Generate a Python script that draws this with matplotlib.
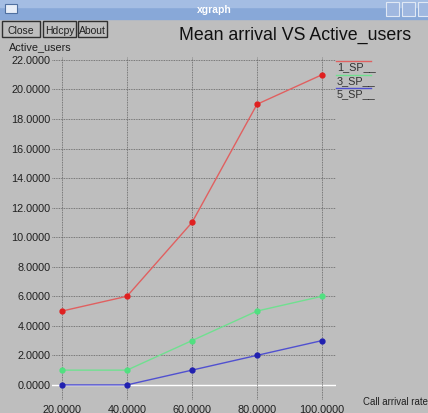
import matplotlib
matplotlib.use("Agg")
import matplotlib.pyplot as plt
from matplotlib.patches import Rectangle

# ---- data ----
x_vals = [20, 40, 60, 80, 100]
sp1 = [5, 6, 11, 19, 21]
sp3 = [1, 1, 3, 5, 6]
sp5 = [0, 0, 1, 2, 3]
series_names = ["1_SP__", "3_SP__", "5_SP__"]
x_ticks = [20, 40, 60, 80, 100]
y_ticks = [0, 2, 4, 6, 8, 10, 12, 14, 16, 18, 20, 22]

W, H = 428, 414
bg = "#bebebe"
fig = plt.figure(figsize=(W / 100, H / 100), dpi=100)
fig.patch.set_facecolor(bg)

# decoration layer in pixel coordinates
deco = fig.add_axes([0, 0, 1, 1])
deco.set_xlim(0, W)
deco.set_ylim(H, 0)
deco.axis("off")
FONT = ["Liberation Sans", "DejaVu Sans"]

# title bar
deco.add_patch(Rectangle((0, 0), W, 20, color="#88a8d8", zorder=1))
deco.add_patch(Rectangle((0, 0), W, 8, color="#a4bde3", zorder=1))
deco.text(214, 10, "xgraph", color="white", fontsize=7.5, fontweight="bold",
          ha="center", va="center", family=FONT, zorder=2)
deco.add_patch(Rectangle((5, 5), 12, 9, facecolor="#e8eef8", edgecolor="#5070a0", lw=0.8, zorder=2))
for bx in [386, 402, 418]:
    deco.add_patch(Rectangle((bx, 3), 13, 14, facecolor="#a0b8e0", edgecolor="#e0e8f4", lw=0.8, zorder=2))

# buttons
for (bx, bw, lab) in [(2, 38, "Close"), (43, 33, "Hdcpy"), (78, 29, "About")]:
    deco.add_patch(Rectangle((bx, 22), bw, 16, facecolor=bg, edgecolor="#303030", lw=1.0, zorder=2))
    deco.text(bx + bw / 2, 30.5, lab, fontsize=7.5, ha="center", va="center", family=FONT, color="#202020")

deco.text(9, 47, "Active_users", fontsize=7.8, ha="left", va="center", family=FONT, color="#202020")
deco.text(411, 35, "Mean arrival VS Active_users", fontsize=12.8, ha="right", va="center",
          family=FONT, color="#101010")
deco.text(363, 402, "Call arrival rate", fontsize=6.9, ha="left", va="center", family=FONT, color="#202020")

# legend
leg_cols = ["#e06060", "#70e090", "#5050d0"]
for i, (nm, c) in enumerate(zip(series_names, leg_cols)):
    yy = 62 + i * 13.5
    deco.plot([336, 371], [yy, yy], color=c, lw=1.0)
    deco.text(337, yy + 5.5, nm, fontsize=7.8, ha="left", va="center", family=FONT, color="#303030")

# ---- main plot ----
left_px, right_px, top_px, bot_px = 52, 336, 58, 402
ax = fig.add_axes([left_px / W, (H - bot_px) / H, (right_px - left_px) / W, (bot_px - top_px) / H])
ax.set_xlim(16.92, 104.3)
ax.set_ylim(-1.09, 22.2)
ax.axis("off")
ax.patch.set_alpha(0)

for yt in y_ticks:
    if yt == 0:
        ax.plot([16.92, 104.3], [0, 0], color="white", lw=1.0, zorder=1)
    else:
        ax.plot([16.92, 104.3], [yt, yt], color="#606060", lw=0.6, ls=(0, (1, 1)), zorder=1)
    ax.text(16.5, yt, f"{yt:.4f}", fontsize=7.8, ha="right", va="center", family=FONT,
            color="#202020", clip_on=False)
for xt in x_ticks:
    ax.plot([xt, xt], [-0.95, 22.2], color="#606060", lw=0.6, ls=(0, (1, 1)), zorder=1)
    ax.text(xt, -1.6, f"{xt:.4f}", fontsize=7.8, ha="center", va="center", family=FONT,
            color="#202020", clip_on=False)

line_cols = ["#e06060", "#70e090", "#5050d0"]
mark_cols = ["#e02020", "#50e080", "#2020b0"]
for ys, lc, mc in zip([sp1, sp3, sp5], line_cols, mark_cols):
    ax.plot(x_vals, ys, color=lc, lw=1.0, zorder=2)
    ax.plot(x_vals, ys, ls="none", marker="o", ms=3.5, color=mc, zorder=3)

fig.savefig("out.png", dpi=100, facecolor=bg)
